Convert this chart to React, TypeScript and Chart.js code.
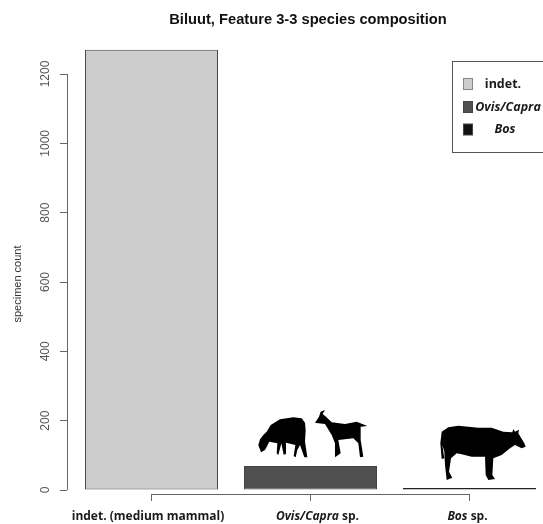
import React, { useEffect, useRef } from "react";
import { Chart, registerables } from "chart.js";

Chart.register(...registerables);

const title = "Biluut, Feature 3-3 species composition";
const yTitle = "specimen count";
const categories = ["indet.", "Ovis/Capra", "Bos"];
const specimenCounts = [1270, 69, 6];
const yTicks = [0, 200, 400, 600, 800, 1000, 1200];
const barFill = ["#cccccc", "#505050", "#111111"];
const barEdge = ["#4a4a4a", "#444444", "#222222"];
const xLabelParts: [string, boolean][][] = [
  [["indet. (medium mammal)", false]],
  [["Ovis/Capra", true], [" sp.", false]],
  [["Bos", true], [" sp.", false]],
];
const xLabelShift = [-3.5, 7, -2];

// silhouette outlines: decoration, in px relative to the given origin
const sheep = [[33,157],[25,135],[30,118],[40,105],[50,95],[62,75],[90,58],[130,52],[155,55],[165,68],[167,90],[165,125],[172,172],[163,172],[150,135],[142,150],[137,172],[131,168],[136,135],[108,128],[108,162],[101,164],[94,130],[85,165],[80,160],[82,130],[58,125],[45,150]];
const goat = [[195,68],[207,50],[212,35],[225,30],[218,42],[228,50],[245,67],[285,72],[320,65],[352,78],[332,80],[332,120],[340,170],[330,172],[325,130],[310,115],[265,120],[272,160],[255,172],[255,130],[245,105],[225,72],[205,70]];
const cow = [[20,132],[16,85],[20,50],[40,37],[70,32],[130,38],[170,38],[205,50],[232,52],[235,42],[240,50],[252,44],[250,55],[268,85],[272,95],[260,100],[240,90],[225,100],[200,120],[175,130],[172,180],[180,192],[160,195],[152,180],[150,125],[110,125],[80,118],[65,115],[48,130],[42,170],[52,188],[35,195],[30,150],[28,110],[22,90],[28,130]];

const boldFont = '"Open Sans", sans-serif';

const rStyle = {
  id: "rStyle",
  afterDatasetsDraw(chart: any) {
    const { ctx, scales } = chart;
    const xs = scales.x;
    const ys = scales.y;
    ctx.save();
    // detached R-style axis lines
    ctx.strokeStyle = "#666666";
    ctx.lineWidth = 1;
    ctx.beginPath();
    ctx.moveTo(xs.left + 0.5, ys.getPixelForValue(0));
    ctx.lineTo(xs.left + 0.5, ys.getPixelForValue(1200));
    ctx.moveTo(xs.getPixelForValue(0), ys.bottom + 0.5);
    ctx.lineTo(xs.getPixelForValue(2), ys.bottom + 0.5);
    ctx.stroke();

    // category labels with mixed italic
    ctx.fillStyle = "#1a1a1a";
    ctx.textBaseline = "middle";
    ctx.textAlign = "left";
    xLabelParts.forEach((parts, i) => {
      const fontOf = (it: boolean) => `${it ? "italic " : ""}bold 12px ${boldFont}`;
      let w = 0;
      parts.forEach(([t, it]) => {
        ctx.font = fontOf(it);
        w += ctx.measureText(t).width;
      });
      let x = xs.getPixelForValue(i) - w / 2 + xLabelShift[i];
      parts.forEach(([t, it]) => {
        ctx.font = fontOf(it);
        ctx.fillText(t, x, 517);
        x += ctx.measureText(t).width;
      });
    });

    // silhouettes
    const poly = (pts: number[][], ox: number, oy: number) => {
      ctx.beginPath();
      pts.forEach(([px, py], k) => {
        const X = ox + px / 3;
        const Y = oy + py / 3;
        if (k) ctx.lineTo(X, Y);
        else ctx.moveTo(X, Y);
      });
      ctx.closePath();
      ctx.fillStyle = "#000000";
      ctx.fill();
    };
    poly(sheep, 250, 400);
    poly(goat, 250, 400);
    poly(cow, 435, 415);

    // legend box
    ctx.fillStyle = "#ffffff";
    ctx.strokeStyle = "#555555";
    ctx.fillRect(452.5, 61.5, 120, 91);
    ctx.strokeRect(452.5, 61.5, 120, 91);
    const rows = [84, 107, 129.5];
    const centers = [503, 508, 505];
    categories.forEach((c, i) => {
      ctx.fillStyle = barFill[i];
      ctx.strokeStyle = i === 0 ? "#888888" : "#444444";
      ctx.fillRect(463.5, rows[i] - 5.5, 9, 11);
      ctx.strokeRect(463.5, rows[i] - 5.5, 9, 11);
      ctx.fillStyle = "#1a1a1a";
      ctx.textAlign = "center";
      ctx.font = `${i === 0 ? "" : "italic "}bold 12.5px ${boldFont}`;
      ctx.fillText(c, centers[i], rows[i]);
    });
    ctx.restore();
  },
};

export default function App() {
  const ref = useRef<HTMLCanvasElement>(null);
  useEffect(() => {
    document.body.style.margin = "0";
    const chart = new Chart(ref.current as HTMLCanvasElement, {
      type: "bar",
      plugins: [rStyle],
      data: {
        datasets: [
          {
            data: specimenCounts.map((y, x) => ({ x, y })),
            backgroundColor: barFill,
            borderColor: barEdge,
            borderWidth: 1,
            borderSkipped: false,
            barPercentage: 0.8365,
            categoryPercentage: 1,
            clip: false,
          } as any,
        ],
      },
      options: {
        animation: false,
        responsive: false,
        devicePixelRatio: 1,
        layout: { padding: { right: 11, top: 0, left: 0, bottom: 0 } },
        plugins: {
          legend: { display: false },
          tooltip: { enabled: false },
          title: {
            display: true,
            text: title,
            fullSize: false,
            color: "#111111",
            font: { family: '"Liberation Sans", Arial, sans-serif', size: 14.7, weight: "bold" },
            padding: { top: 11, bottom: 45.36 },
          },
        },
        scales: {
          x: {
            type: "linear",
            offset: false,
            min: -0.5314,
            max: 2.5,
            afterFit: (s: any) => {
              s.height = 30;
            },
            afterBuildTicks: (s: any) => {
              s.ticks = categories.map((_, value) => ({ value }));
            },
            border: { display: false },
            grid: { offset: false, drawOnChartArea: false, drawTicks: true, tickLength: 7, tickColor: "#666666" },
            ticks: { display: false },
          },
          y: {
            type: "linear",
            min: -11.5,
            max: 1200,
            afterFit: (s: any) => {
              s.width = 67;
            },
            afterBuildTicks: (s: any) => {
              s.ticks = yTicks.map((value) => ({ value }));
            },
            border: { display: false },
            grid: { drawOnChartArea: false, drawTicks: true, tickLength: 7, tickColor: "#666666" },
            title: {
              display: true,
              text: yTitle,
              color: "#333333",
              font: { family: '"Liberation Sans", Arial, sans-serif', size: 11 },
              padding: { top: 11, bottom: 0 },
            },
            ticks: {
              autoSkip: false,
              minRotation: 90,
              maxRotation: 90,
              crossAlign: "center",
              padding: 1,
              color: "#555555",
              callback: (v: any) => String(v),
              font: { family: '"Liberation Sans", Arial, sans-serif', size: 12 },
            },
          },
        },
      } as any,
    });
    return () => chart.destroy();
  }, []);
  return (
    <div style={{ width: 543, height: 524, overflow: "hidden" }}>
      <canvas ref={ref} width={560} height={524} style={{ display: "block", width: 560, height: 524, filter: "blur(0.35px)" }} />
    </div>
  );
}
